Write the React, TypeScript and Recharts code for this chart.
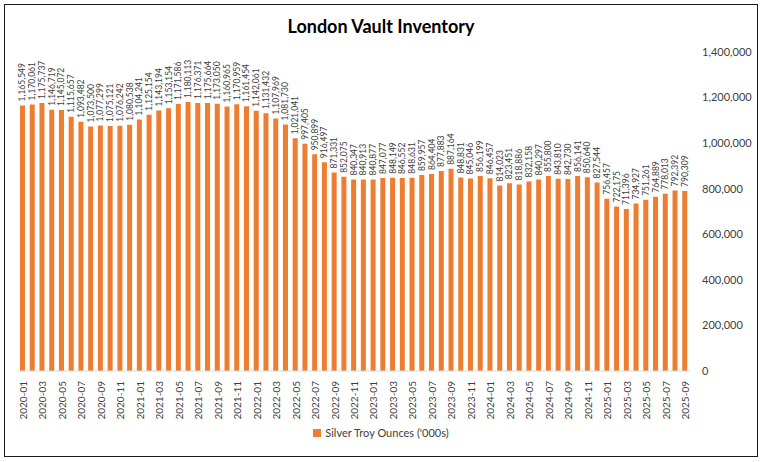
import React from "react";
import { BarChart, Bar, XAxis, YAxis, Legend, LabelList } from "recharts";

const months = [
  "2020-01", "2020-02", "2020-03", "2020-04", "2020-05", "2020-06",
  "2020-07", "2020-08", "2020-09", "2020-10", "2020-11", "2020-12",
  "2021-01", "2021-02", "2021-03", "2021-04", "2021-05", "2021-06",
  "2021-07", "2021-08", "2021-09", "2021-10", "2021-11", "2021-12",
  "2022-01", "2022-02", "2022-03", "2022-04", "2022-05", "2022-06",
  "2022-07", "2022-08", "2022-09", "2022-10", "2022-11", "2022-12",
  "2023-01", "2023-02", "2023-03", "2023-04", "2023-05", "2023-06",
  "2023-07", "2023-08", "2023-09", "2023-10", "2023-11", "2023-12",
  "2024-01", "2024-02", "2024-03", "2024-04", "2024-05", "2024-06",
  "2024-07", "2024-08", "2024-09", "2024-10", "2024-11", "2024-12",
  "2025-01", "2025-02", "2025-03", "2025-04", "2025-05", "2025-06",
  "2025-07", "2025-08", "2025-09",
];

const silverOunces = [
  1165549, 1170061, 1175737, 1146719, 1145072, 1115657,
  1093482, 1073500, 1077299, 1075121, 1076242, 1080538,
  1104241, 1125154, 1143194, 1153154, 1171586, 1180113,
  1176371, 1175664, 1173050, 1160965, 1170959, 1161454,
  1142061, 1131432, 1107969, 1081730, 1021041, 997405,
  950899, 916497, 871331, 852075, 840347, 840913,
  840877, 847077, 848149, 846552, 848631, 859957,
  864404, 877883, 887164, 848831, 845046, 856199,
  846457, 814023, 823451, 818886, 832158, 840297,
  855800, 843810, 842730, 856141, 850640, 827544,
  756457, 722175, 711396, 734927, 751261, 764889,
  778013, 792392, 790309,
];

const yTicks = [0, 200000, 400000, 600000, 800000, 1000000, 1200000, 1400000];

const data = months.map((month, i) => ({ month, value: silverOunces[i] }));

const FONT = "Lato, 'Liberation Sans', sans-serif";
const ORANGE = "#ED7D31";
const fmt = (v: number) => v.toLocaleString("en-US");

function MonthTick({ x, y, payload }: any) {
  return (
    <text
      x={x}
      y={y}
      transform={`rotate(-90, ${x}, ${y})`}
      dy={4}
      textAnchor="end"
      fontSize={10}
      fontFamily={FONT}
      fill="#404040"
    >
      {payload.value}
    </text>
  );
}

function ValueLabel({ x, y, width, value }: any) {
  const cx = x + width / 2 + 3;
  const cy = y - 4;
  return (
    <text
      x={cx}
      y={cy}
      transform={`rotate(-90, ${cx}, ${cy})`}
      textAnchor="start"
      fontSize={8.5}
      fontFamily={FONT}
      fill="#404040"
    >
      {fmt(value)}
    </text>
  );
}

export default function App() {
  return (
    <div
      style={{
        position: "absolute",
        left: 0,
        top: 0,
        width: 762,
        height: 462,
        background: "#fff",
      }}
    >
      <div
        style={{
          position: "absolute",
          left: 4,
          top: 4,
          width: 752,
          height: 451,
          border: "1.5px solid #1a1a1a",
        }}
      />
      <div
        style={{
          position: "absolute",
          top: 15,
          width: 762,
          textAlign: "center",
          fontFamily: FONT,
          fontWeight: 700,
          fontSize: 18,
          color: "#000",
        }}
      >
        London Vault Inventory
      </div>
      <BarChart
        width={762}
        height={462}
        data={data}
        margin={{ top: 52, right: 8, left: 18, bottom: 17 }}
      >
        <XAxis
          dataKey="month"
          interval={1}
          tick={<MonthTick />}
          tickLine={false}
          axisLine={{ stroke: "#D9D9D9" }}
          tickMargin={4}
          height={52}
        />
        <YAxis
          orientation="right"
          domain={[0, 1400000]}
          ticks={yTicks}
          tickFormatter={fmt}
          axisLine={false}
          tickLine={false}
          tickMargin={6}
          width={64}
          tick={{ fontSize: 11, fontFamily: FONT, fill: "#404040", textAnchor: "start" }}
        />
        <Legend
          verticalAlign="bottom"
          height={22}
          iconType="square"
          iconSize={8}
          formatter={(v: string) => (
            <span style={{ color: "#404040", fontSize: 11, fontFamily: FONT }}>{v}</span>
          )}
        />
        <Bar
          dataKey="value"
          name="Silver Troy Ounces ('000s)"
          fill={ORANGE}
          barSize={5}
          isAnimationActive={false}
        >
          <LabelList dataKey="value" content={<ValueLabel />} />
        </Bar>
      </BarChart>
    </div>
  );
}
